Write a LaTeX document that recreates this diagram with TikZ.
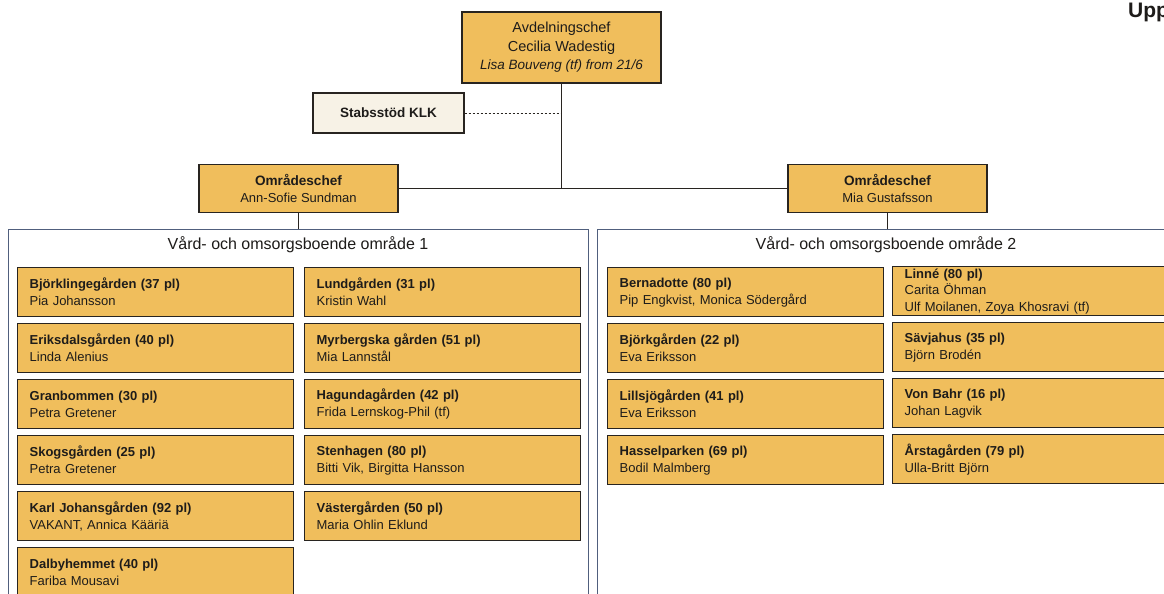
\documentclass[tikz,border=0pt]{standalone}
\usepackage{fontspec}
\setmainfont{Liberation Sans}
\definecolor{gold}{RGB}{240,190,92}
\definecolor{cream}{RGB}{247,242,230}
\definecolor{boxline}{RGB}{40,36,32}
\definecolor{panelline}{RGB}{80,95,125}
\definecolor{ink}{RGB}{30,28,26}
\tikzset{
  unitbox/.style={draw=boxline, line width=1.3pt, fill=gold, anchor=north west,
    minimum width=276pt, minimum height=49pt, text width=252pt, inner xsep=12pt,
    inner ysep=0pt, align=left, text=ink, font=\fontsize{13}{17}\selectfont},
  headbox/.style={draw=boxline, line width=1.3pt, fill=gold, align=center, text=ink, inner sep=0pt},
  panel/.style={draw=panelline, line width=0.8pt, anchor=north west, inner sep=0pt},
  ptitle/.style={text=ink, font=\fontsize{16}{18}\selectfont, inner sep=0pt},
  conn/.style={draw=boxline, line width=1.2pt},
}
\begin{document}
\begin{tikzpicture}[x=1pt,y=-1pt]
\useasboundingbox (0,0) rectangle (1164,594);
\fill[white] (0,0) rectangle (1164,594);

% top
\node[headbox, minimum width=199pt, minimum height=71pt, font=\fontsize{14.5}{18.5}\selectfont] (ac) at (561.5,47.5)
  {Avdelningschef\\Cecilia Wadestig\\{\fontsize{13.5}{18.5}\selectfont\itshape Lisa Bouveng (tf) from 21/6}};
\node[headbox, fill=cream, minimum width=151pt, minimum height=40pt,
  font=\bfseries\fontsize{13.5}{16}\selectfont] (stab) at (388.5,113) {Stabsstöd KLK};
\node[headbox, minimum width=199pt, minimum height=48pt, font=\fontsize{13}{17}\selectfont] (loc) at (298.5,188.5)
  {{\fontsize{13.6}{17}\selectfont\bfseries Områdeschef}\\Ann-Sofie Sundman};
\node[headbox, minimum width=199pt, minimum height=48pt, font=\fontsize{13}{17}\selectfont] (roc) at (887.5,188.5)
  {{\fontsize{13.6}{17}\selectfont\bfseries Områdeschef}\\Mia Gustafsson};

\node[anchor=west, inner sep=0pt, text=ink, font=\bfseries\fontsize{21}{21}\selectfont] (upp) at (1128,12) {Upp};

% panels
\node[panel, minimum width=580pt, minimum height=400pt] (p1) at (8,229) {};
\node[panel, minimum width=580pt, minimum height=400pt] (p2) at (597,228.5) {};
\node[ptitle] (t1) at (298,245) {Vård- och omsorgsboende område 1};
\node[ptitle] (t2) at (886,245) {Vård- och omsorgsboende område 2};

% connectors
\draw[conn] (ac.south) -- (ac.south |- loc.east);
\draw[conn] (loc.east) -- (roc.west);
\draw[conn, dashed, line width=0.9pt, dash pattern=on 2.5pt off 1.5pt] (stab.east) -- (stab.east -| ac.south);
\draw[conn] (loc.south) -- (loc.south |- p1.north);
\draw[conn] (roc.south) -- (roc.south |- p2.north);

% area 1
\node[unitbox] (u1) at (17,267) {\textbf{Björklingegården (37 pl)}\\Pia Johansson};
\node[unitbox] (u2) at (17,323) {\textbf{Eriksdalsgården (40 pl)}\\Linda Alenius};
\node[unitbox] (u3) at (17,379) {\textbf{Granbommen (30 pl)}\\Petra Gretener};
\node[unitbox] (u4) at (17,435) {\textbf{Skogsgården (25 pl)}\\Petra Gretener};
\node[unitbox] (u5) at (17,491) {\textbf{Karl Johansgården (92 pl)}\\VAKANT, Annica Kääriä};
\node[unitbox] (u6) at (17,547) {\textbf{Dalbyhemmet (40 pl)}\\Fariba Mousavi};
\node[unitbox] (u7) at (304,267) {\textbf{Lundgården (31 pl)}\\Kristin Wahl};
\node[unitbox] (u8) at (304,323) {\textbf{Myrbergska gården (51 pl)}\\Mia Lannstål};
\node[unitbox] (u9) at (304,379) {\textbf{Hagundagården (42 pl)}\\Frida Lernskog-Phil (tf)};
\node[unitbox] (u10) at (304,435) {\textbf{Stenhagen (80 pl)}\\Bitti Vik, Birgitta Hansson};
\node[unitbox] (u11) at (304,491) {\textbf{Västergården (50 pl)}\\Maria Ohlin Eklund};

% area 2
\node[unitbox] (v1) at (607,267) {\textbf{Bernadotte (80 pl)}\\Pip Engkvist, Monica Södergård};
\node[unitbox] (v2) at (607,323) {\textbf{Björkgården (22 pl)}\\Eva Eriksson};
\node[unitbox] (v3) at (607,379) {\textbf{Lillsjögården (41 pl)}\\Eva Eriksson};
\node[unitbox] (v4) at (607,435) {\textbf{Hasselparken (69 pl)}\\Bodil Malmberg};
\node[unitbox, font=\fontsize{13}{16.5}\selectfont] (v5) at (892,266) {\textbf{Linné (80 pl)}\\Carita Öhman\\Ulf Moilanen, Zoya Khosravi (tf)};
\node[unitbox] (v6) at (892,322) {\textbf{Sävjahus (35 pl)}\\Björn Brodén};
\node[unitbox] (v7) at (892,378) {\textbf{Von Bahr (16 pl)}\\Johan Lagvik};
\node[unitbox] (v8) at (892,434) {\textbf{Årstagården (79 pl)}\\Ulla-Britt Björn};
\end{tikzpicture}
\end{document}
